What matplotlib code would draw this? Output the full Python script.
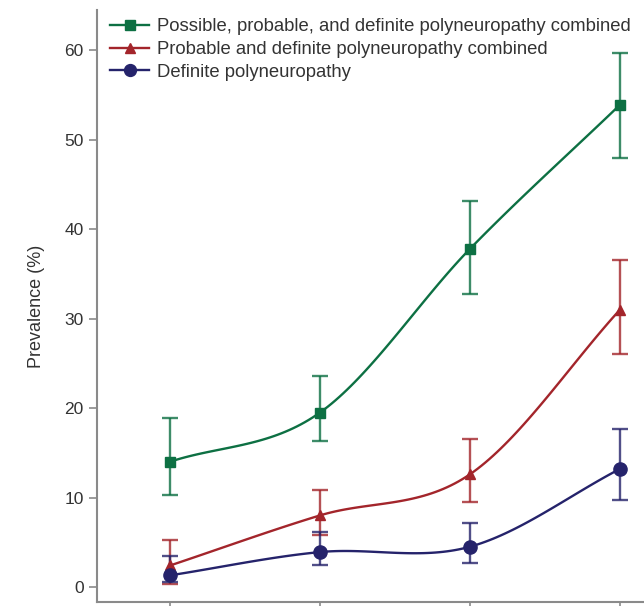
import numpy as np
import matplotlib
matplotlib.use('Agg')
import matplotlib.pyplot as plt

plt.rcParams['font.family'] = ['Liberation Sans', 'DejaVu Sans']

# groups along x (labels are cropped off in the reference)
groups = [1, 2, 3, 4]

# possible, probable and definite combined
green_y = [14.0, 19.5, 37.8, 53.9]
green_lo = [10.3, 16.3, 32.8, 48.0]
green_hi = [18.9, 23.6, 43.1, 59.7]

# probable and definite combined
red_y = [2.4, 8.0, 12.6, 31.0]
red_lo = [0.3, 5.8, 9.5, 26.0]
red_hi = [5.2, 10.8, 16.5, 36.6]

# definite
blue_y = [1.3, 3.9, 4.5, 13.2]
blue_lo = [0.5, 2.5, 2.7, 9.7]
blue_hi = [3.5, 6.2, 7.2, 17.7]

labels = ['Possible, probable, and definite polyneuropathy combined',
          'Probable and definite polyneuropathy combined',
          'Definite polyneuropathy']


def smooth(x, y, n=40):
    # catmull-rom through the points, only for drawing the curve
    x = np.asarray(x, float)
    y = np.asarray(y, float)
    px = np.concatenate([[2 * x[0] - x[1]], x, [2 * x[-1] - x[-2]]])
    py = np.concatenate([[2 * y[0] - y[1]], y, [2 * y[-1] - y[-2]]])
    xs, ys = [], []
    t = np.linspace(0, 1, n)
    for i in range(1, len(px) - 2):
        for p, out in ((px, xs), (py, ys)):
            p0, p1, p2, p3 = p[i - 1], p[i], p[i + 1], p[i + 2]
            out.extend(0.5 * (2 * p1 + (-p0 + p2) * t +
                              (2 * p0 - 5 * p1 + 4 * p2 - p3) * t ** 2 +
                              (-p0 + 3 * p1 - 3 * p2 + p3) * t ** 3))
    return np.array(xs), np.array(ys)


fig = plt.figure(figsize=(6.44, 6.06), dpi=100)
ax = fig.add_axes([0.1506, 0.0066, 0.8494, 0.977])

series = [(green_y, green_lo, green_hi, '#0d7043', 's', 7.5, labels[0]),
          (red_y, red_lo, red_hi, '#a3252b', '^', 7.5, labels[1]),
          (blue_y, blue_lo, blue_hi, '#25236b', 'o', 9.5, labels[2])]

handles = []
for y, lo, hi, c, m, ms, lab in series:
    sx, sy = smooth(groups, y)
    ax.plot(sx, sy, color=c, lw=1.7, zorder=2)
    yerr = [np.array(y) - np.array(lo), np.array(hi) - np.array(y)]
    ax.errorbar(groups, y, yerr=yerr, fmt='none', ecolor=c, elinewidth=1.7,
                capsize=6, capthick=1.7, alpha=0.8, zorder=3)
    ax.plot(groups, y, ls='none', marker=m, ms=ms, color=c, zorder=4)
    h, = ax.plot([], [], color=c, lw=1.7, marker=m, ms=ms * 0.9)
    h.set_label(lab)
    handles.append(h)

ax.set_xlim(0.513, 4.16)
ax.set_ylim(-1.68, 64.5)
ax.set_xticks(groups)
ax.set_xticklabels([])
ax.set_yticks([0, 10, 20, 30, 40, 50, 60])
ax.set_ylabel('Prevalence (%)', fontsize=13, color='#333333', labelpad=14)

for s in ['top', 'right']:
    ax.spines[s].set_visible(False)
for s in ['left', 'bottom']:
    ax.spines[s].set_color('#8a8a8a')
    ax.spines[s].set_linewidth(1.5)
ax.tick_params(axis='both', colors='#8a8a8a', width=1.2, length=6,
               labelcolor='#333333', labelsize=12.5)

ax.legend(handles=handles, loc='upper left', bbox_to_anchor=(0.014, 0.995),
          frameon=False, fontsize=13.3, handlelength=2.1, handletextpad=0.45,
          labelspacing=0.3, borderaxespad=0.0, borderpad=0.3,
          labelcolor='#333333')

fig.savefig('out.png', dpi=100)
